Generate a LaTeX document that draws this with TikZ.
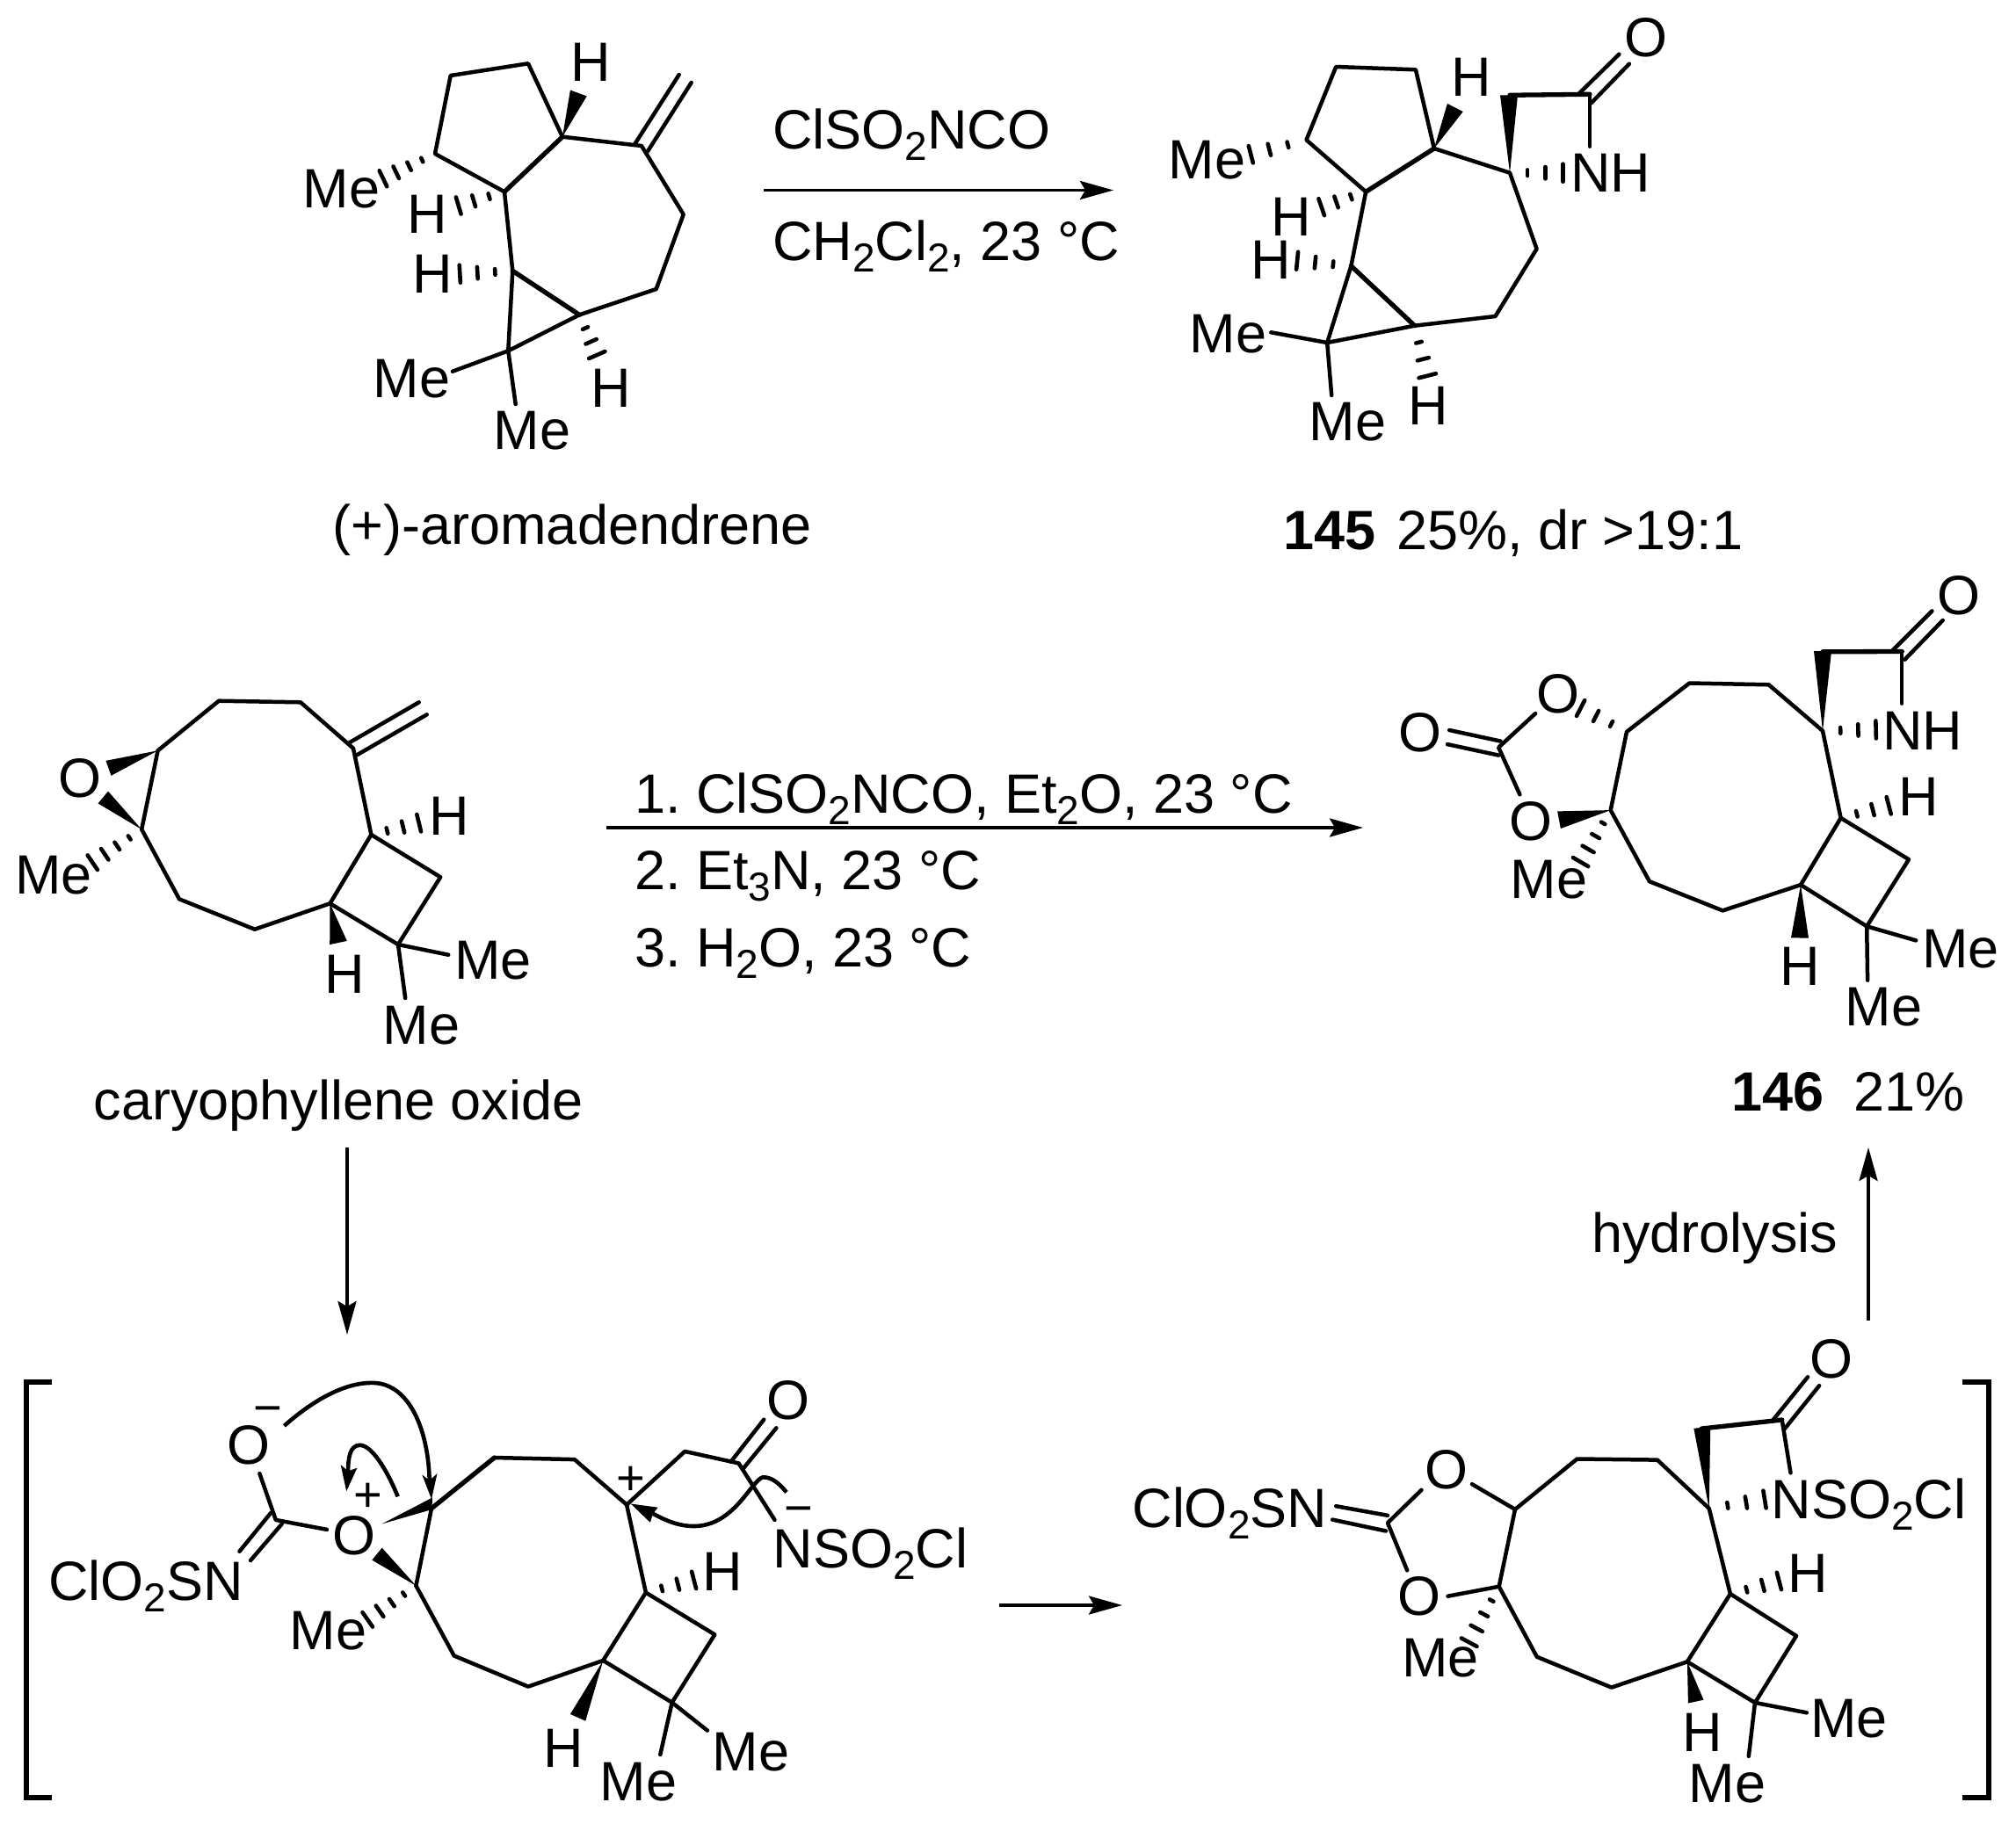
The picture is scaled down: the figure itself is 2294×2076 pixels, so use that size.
\documentclass[tikz,border=0pt]{standalone}
\usepackage{fontspec}
\setmainfont{Liberation Sans}
\usetikzlibrary{calc,arrows.meta}
\frenchspacing
\tikzset{
  lab/.style={anchor=base,inner sep=0pt,outer sep=0pt,font=\fontsize{63}{70}\selectfont},
  labw/.style={lab,anchor=base west},
  chg/.style={lab,font=\fontsize{56}{60}\selectfont},
  bond/.style={line width=4.5pt,line join=round,line cap=round},
  bondb/.style={line width=5.3pt,line join=round,line cap=round},
  hashst/.style={line width=4.6pt,line cap=round},
  brk/.style={line width=6pt,line join=miter},
  rxn/.style={line width=3.6pt,-{Stealth[length=38pt,width=21pt,inset=6pt]}},
  curvy/.style={line width=4.6pt}
}
\newcommand\subs[1]{\raisebox{-13pt}{\fontsize{46}{46}\selectfont #1}}
\newcommand\lbl[5][lab]{\node[#1] (#2) at (#3,#4) {#5};}
\newcommand\pt[3]{\coordinate (#1) at (#2,#3);}
\newcommand\hashbond[4][10]{%
  \foreach \ii in {1,...,#4}{%
    \pgfmathsetmacro\hf{\ii/#4}%
    \pgfmathsetmacro\hw{\hf*#1}%
    \draw[hashst] ($(#2)!\hf!(#3)!\hw pt!90:(#2)$) -- ($(#2)!\hf!(#3)!\hw pt!-90:(#2)$);
  }}
\newcommand\wedgebond[3][10]{%
  \fill (#2) -- ($(#3)!#1pt!90:(#2)$) -- ($(#3)!#1pt!-90:(#2)$) -- cycle;}
\begin{document}
\begin{tikzpicture}[x=1pt,y=-1pt]
\useasboundingbox (0,0) rectangle (2294,2076);
\fill[white] (0,0) rectangle (2294,2076);

% ---------- (+)-aromadendrene
\pt{Aa}{512.7}{86}\pt{Ab}{601}{72.3}\pt{Ac}{640}{155.7}\pt{Ad}{574}{218.3}\pt{Ae}{495}{175}
\pt{Af}{730}{166}\pt{Ag}{777.7}{244}\pt{Ah}{746.7}{329}\pt{Ai}{659.3}{358.3}\pt{Aj}{583.3}{308.3}\pt{Ak}{578.3}{399.3}
\pt{Am1}{515}{422.7}\pt{Am2}{586.7}{460}
\pt{Ad1a}{721.7}{165}\pt{Ad1b}{772.7}{85}\pt{Ad2a}{736.7}{172.7}\pt{Ad2b}{786.7}{94}
\pt{Aw}{658.3}{106}\pt{Ahe}{436}{203.3}\pt{Ahd}{521.7}{234}\pt{Ahj}{523.3}{311.7}\pt{Ahi}{679.3}{404}
\draw[bond] (Ac) -- (Ab) -- (Aa) -- (Ae) -- (Ad);
\draw[bondb] (Ad) -- (Ac);
\draw[bond] (Ac) -- (Af) -- (Ag) -- (Ah) -- (Ai);
\draw[bond] (Ad) -- (Aj) -- (Ak) -- (Ai);
\draw[bondb] (Aj) -- (Ai);
\draw[bond] (Ak) -- (Am1) (Ak) -- (Am2);
\draw[bond] (Ad1a) -- (Ad1b) (Ad2a) -- (Ad2b);
\wedgebond{Ac}{Aw}
\hashbond{Ae}{Ahe}{4}\hashbond{Ad}{Ahd}{3}\hashbond{Aj}{Ahj}{3}\hashbond{Ai}{Ahi}{3}
\lbl{A1}{672}{92.7}{H}\lbl{A2}{388.7}{236.7}{Me}\lbl{A3}{486.3}{265.7}{H}\lbl{A4}{492}{333.3}{H}
\lbl{A5}{468.3}{452.7}{Me}\lbl{A6}{605.3}{511}{Me}\lbl{A7}{695.3}{463.3}{H}
\lbl{A8}{651}{619}{(+)-aromadendrene}

% ---------- arrow 1
\coordinate (R1a) at (869,216.5);\coordinate (R1b) at (1267,216.5);
\draw[rxn] (R1a) -- (R1b);
\lbl[labw]{R1t}{879}{170}{ClSO\subs{2}NCO}
\lbl[labw]{R1u}{879}{297}{CH\subs{2}Cl\subs{2}, 23 °C}

% ---------- 145
\pt{Ba}{1520.2}{76}\pt{Bb}{1610.9}{79.3}\pt{Bc}{1631.9}{169}\pt{Bd}{1554.2}{218.3}\pt{Be}{1486.5}{159.3}
\pt{Bf}{1718}{196.7}\pt{Bg}{1748.6}{283.3}\pt{Bh}{1701.5}{360}\pt{Bi}{1609.7}{370.7}\pt{Bj}{1537.4}{302.7}\pt{Bk}{1510.2}{390}
\pt{Bm1}{1446.3}{378.3}\pt{Bm2}{1515.2}{450}
\pt{Bw1}{1655.8}{122.5}\pt{Bw2}{1717}{108.3}\pt{Bt}{1718}{108.3}\pt{Bn}{1809}{107.3}\pt{Bnh}{1809}{166.7}
\pt{Bd1a}{1796.5}{106.7}\pt{Bd1b}{1842.4}{61.7}\pt{Bd2a}{1810.6}{117.3}\pt{Bd2b}{1853.9}{72.7}
\pt{Bhe}{1423.3}{175.7}\pt{Bhd}{1503.7}{235.7}\pt{Bhj}{1476.1}{296.7}\pt{Bhi}{1624.2}{427.7}\pt{Bhf}{1778.5}{196.7}
\draw[bond] (Bc) -- (Bb) -- (Ba) -- (Be) -- (Bd);
\draw[bondb] (Bd) -- (Bc);
\draw[bond] (Bc) -- (Bf) -- (Bg) -- (Bh) -- (Bi);
\draw[bond] (Bd) -- (Bj) -- (Bk) -- (Bi);
\draw[bondb] (Bj) -- (Bi);
\draw[bond] (Bk) -- (Bm1) (Bk) -- (Bm2);
\draw[bondb] (Bt) -- (Bn);
\draw[bond] (Bn) -- (Bnh);
\draw[bond] (Bd1a) -- (Bd1b) (Bd2a) -- (Bd2b);
\wedgebond{Bc}{Bw1}\wedgebond{Bf}{Bw2}
\hashbond{Be}{Bhe}{3}\hashbond{Bd}{Bhd}{3}\hashbond{Bj}{Bhj}{3}\hashbond{Bi}{Bhi}{3}\hashbond{Bf}{Bhf}{3}
\lbl{B1}{1873}{65}{O}\lbl{B2}{1674}{110}{H}\lbl{B3}{1373.6}{204}{Me}\lbl{B4}{1469.3}{268.3}{H}
\lbl{B5}{1446.3}{317.3}{H}\lbl{B6}{1397.3}{401.7}{Me}\lbl{B7}{1533.6}{501.7}{Me}\lbl{B8}{1625}{483.3}{H}
\lbl{B9}{1832.8}{218.3}{NH}
\lbl[labw]{B10}{1460}{625}{\textbf{145}\hspace{24pt}25\%, dr >19:1}

% ---------- caryophyllene oxide
\pt{Ca}{179.6}{854.3}\pt{Cb}{249}{797.7}\pt{Cc}{342}{799.3}\pt{Cd}{402}{851.7}\pt{Ce}{422.4}{950}
\pt{Cf}{375.5}{1028.3}\pt{Cg}{289.8}{1057.7}\pt{Ch}{204}{1023.3}\pt{Ci}{161.2}{944}
\pt{Cj}{501.2}{998.3}\pt{Ck}{453}{1075}\pt{Cm1}{510.2}{1086.7}\pt{Cm2}{461.2}{1136}
\pt{Cd1a}{398}{845}\pt{Cd1b}{476.7}{799.3}\pt{Cd2a}{406.1}{859.3}\pt{Cd2b}{485.7}{813.3}
\pt{Cw1}{123.5}{874.3}\pt{Cw2}{117.3}{907.5}\pt{Cw3}{385}{1073}\pt{Chi}{105.3}{981.7}\pt{Che}{476.7}{936.7}
\draw[bond] (Ci) -- (Ca) -- (Cb) -- (Cc) -- (Cd) -- (Ce) -- (Cf) -- (Cg) -- (Ch) -- (Ci);
\draw[bond] (Ce) -- (Cj) -- (Ck) -- (Cf);
\draw[bond] (Ck) -- (Cm1) (Ck) -- (Cm2);
\draw[bond] (Cd1a) -- (Cd1b) (Cd2a) -- (Cd2b);
\wedgebond[9]{Ca}{Cw1}\wedgebond[9]{Ci}{Cw2}\wedgebond{Cf}{Cw3}
\hashbond{Ci}{Chi}{4}\hashbond{Ce}{Che}{3}
\lbl{C1}{90.6}{907.7}{O}\lbl{C2}{61.2}{1017.3}{Me}\lbl{C3}{511}{950}{H}\lbl{C4}{392.2}{1130}{H}
\lbl{C5}{561.2}{1114.3}{Me}\lbl{C6}{479.6}{1188.3}{Me}
\lbl{C7}{385}{1274}{caryophyllene oxide}

% ---------- arrow 2
\coordinate (R2a) at (690,942);\coordinate (R2b) at (1551,942);
\draw[rxn] (R2a) -- (R2b);
\lbl[labw]{R2t}{722}{925}{1. ClSO\subs{2}NCO, Et\subs{2}O, 23 °C}
\lbl[labw]{R2u}{722}{1012}{2. Et\subs{3}N, 23 °C}
\lbl[labw]{R2v}{722}{1100}{3. H\subs{2}O, 23 °C}

% ---------- 146
\pt{Da}{1851}{832.9}\pt{Db}{1922.4}{777.5}\pt{Dc}{2012.6}{779.3}\pt{Dd}{2074}{831.8}\pt{De}{2094.6}{931}
\pt{Df}{2049}{1007.1}\pt{Dg}{1960.2}{1036.4}\pt{Dh}{1876.9}{1003.2}\pt{Di}{1832.7}{922.1}
\pt{Dj}{2172}{978.2}\pt{Dk}{2124.2}{1054.3}\pt{Dm1}{2180.2}{1070.4}\pt{Dm2}{2125.1}{1115.7}
\pt{Dw1}{2074}{741}\pt{Dt}{2074}{741.8}\pt{Dn}{2164.2}{741.5}\pt{Dnh}{2164.2}{800.7}
\pt{Dd1a}{2153.8}{740}\pt{Dd1b}{2198.4}{695.4}\pt{Dd2a}{2167.4}{750.7}\pt{Dd2b}{2210.7}{706}
\pt{Dhd}{2134.6}{830.4}\pt{Dhe}{2149.2}{916.8}\pt{Dha}{1798.6}{806}\pt{Dw2}{1774}{933.2}\pt{Dhi}{1798.6}{981.1}\pt{Dw3}{2048}{1067.5}
\pt{Dp}{1705.2}{850.7}\pt{Do1}{1747.1}{812.1}\pt{Do2}{1729.4}{904.3}
\pt{De1a}{1649.2}{831}\pt{De1b}{1707.5}{843.6}\pt{De2a}{1647}{847.1}\pt{De2b}{1705.2}{859.6}
\draw[bond] (Di) -- (Da) -- (Db) -- (Dc) -- (Dd) -- (De) -- (Df) -- (Dg) -- (Dh) -- (Di);
\draw[bond] (De) -- (Dj) -- (Dk) -- (Df);
\draw[bond] (Dk) -- (Dm1) (Dk) -- (Dm2);
\draw[bondb] (Dt) -- (Dn);
\draw[bond] (Dn) -- (Dnh);
\draw[bond] (Dd1a) -- (Dd1b) (Dd2a) -- (Dd2b);
\draw[bond] (Do1) -- (Dp) -- (Do2);
\draw[bond] (De1a) -- (De1b) (De2a) -- (De2b);
\wedgebond{Dd}{Dw1}\wedgebond{Di}{Dw2}\wedgebond{Df}{Dw3}
\hashbond{Dd}{Dhd}{3}\hashbond{De}{Dhe}{3}\hashbond{Da}{Dha}{3}\hashbond{Di}{Dhi}{4}
\lbl{D1}{1772.6}{811.4}{O}\lbl{D2}{1616}{855.4}{O}\lbl{D3}{1742.1}{956}{O}\lbl{D4}{1762.6}{1022.9}{Me}
\lbl{D5}{2187.5}{853.2}{NH}\lbl{D6}{2228.9}{699}{O}\lbl{D7}{2183.4}{928.6}{H}\lbl{D8}{2048.6}{1121.4}{H}
\lbl{D9}{2231.2}{1101.8}{Me}\lbl{D10}{2143.7}{1167.9}{Me}
\lbl[labw]{D11}{1970}{1264}{\textbf{146}\hspace{34pt}21\%}

% ---------- vertical + lower arrows
\coordinate (R3a) at (395,1306);\coordinate (R3b) at (395,1519);
\draw[rxn] (R3a) -- (R3b);
\coordinate (R4a) at (2126,1503);\coordinate (R4b) at (2126,1306);
\draw[rxn] (R4a) -- (R4b);
\lbl[labw]{R4t}{1811}{1425}{hydrolysis}
\coordinate (R5a) at (1137,1827);\coordinate (R5b) at (1277,1827);
\draw[rxn] (R5a) -- (R5b);

% ---------- brackets
\coordinate (L1) at (59.3,1573.2);\coordinate (L2) at (29.9,1573.2);\coordinate (L3) at (29.9,2045.5);\coordinate (L4) at (59.3,2045.5);
\draw[brk] (L1) -- (L2) -- (L3) -- (L4);
\coordinate (M1) at (2233.4,1572.7);\coordinate (M2) at (2262.8,1572.7);\coordinate (M3) at (2262.8,2046.3);\coordinate (M4) at (2233.4,2046.3);
\draw[brk] (M1) -- (M2) -- (M3) -- (M4);

% ---------- intermediate (left)
\pt{Ep}{313.8}{1729.9}\pt{Eo1}{295.4}{1677.1}\pt{Eo2}{372}{1740.9}
\pt{Ed1a}{272.5}{1765.7}\pt{Ed1b}{308}{1722.1}\pt{Ed2a}{285.1}{1776}\pt{Ed2b}{320.7}{1734.5}
\pt{Ea}{491}{1716.8}\pt{Eb}{562.6}{1659}\pt{Ec}{653.8}{1661.1}\pt{Ed}{713.1}{1712.6}\pt{Ee}{734.9}{1812.6}
\pt{Ef}{686.3}{1889.9}\pt{Eg}{601}{1919.6}\pt{Eh}{516.7}{1884.5}\pt{Ei}{473.4}{1804.8}
\pt{Ej}{813.3}{1860.4}\pt{Ek}{764.7}{1937.7}\pt{Em1}{804.9}{1969.6}\pt{Em2}{751.3}{1997}
\pt{Em}{779.3}{1651.9}\pt{En}{840.5}{1665.4}\pt{Enh}{881.5}{1729.9}
\pt{Ee1a}{831.7}{1663.6}\pt{Ee1b}{869.2}{1615.7}\pt{Ee2a}{846.3}{1670.7}\pt{Ee2b}{883.4}{1625.3}
\pt{Ew2}{429}{1768.6}\pt{Ehi}{418.3}{1843.4}\pt{Ew3}{657.6}{1954.8}\pt{Ehe}{789.6}{1798.4}
\pt{Ew1a}{434.4}{1734.5}\pt{Ew1b}{492}{1704.5}\pt{Ew1c}{491.5}{1718}
\draw[bond] (Eo1) -- (Ep) -- (Eo2);
\draw[bond] (Ed1a) -- (Ed1b) (Ed2a) -- (Ed2b);
\draw[bond] (Ei) -- (Ea);
\draw[bondb] (Ea) -- (Eb);
\draw[bond] (Eb) -- (Ec) -- (Ed) -- (Ee) -- (Ef) -- (Eg) -- (Eh) -- (Ei);
\draw[bond] (Ee) -- (Ej) -- (Ek) -- (Ef);
\draw[bond] (Ek) -- (Em1) (Ek) -- (Em2);
\draw[bond] (Ed) -- (Em) -- (En) -- (Enh);
\draw[bond] (Ee1a) -- (Ee1b) (Ee2a) -- (Ee2b);
\fill (Ew1a) -- (Ew1b) -- (Ew1c) -- cycle;
\wedgebond[9]{Ei}{Ew2}\wedgebond[9.5]{Ef}{Ew3}
\hashbond{Ei}{Ehi}{4}\hashbond{Ee}{Ehe}{3}
\lbl{E1}{283.2}{1666.5}{O}\lbl[chg]{E2}{305}{1621}{−}\lbl{E3}{403.4}{1769}{O}\lbl[chg]{E4}{419}{1720}{+}
\lbl{E5}{165.8}{1821.4}{ClO\subs{2}SN}\lbl{E6}{373.4}{1877}{Me}
\lbl[chg]{E7}{717.7}{1701}{+}\lbl{E8}{897.2}{1615.7}{O}\lbl[chg]{E9}{908.8}{1735}{−}
\lbl{E10}{990.6}{1784.2}{NSO\subs{2}Cl}\lbl{E11}{822.5}{1810.8}{H}\lbl{E12}{641.5}{2011.8}{H}
\lbl{E13}{854.7}{2015.4}{Me}\lbl{E14}{726.5}{2049.4}{Me}
% curved arrows
\coordinate (Fa) at (323.4,1622.8);\coordinate (Fb) at (488.7,1686.7);
\draw[curvy] (Fa) .. controls (363.6,1587.4) and (398,1573.2) .. (424.8,1573.9) .. controls (466.9,1575) and (487.9,1629.9) .. (Fb);
\fill (491,1706.2) -- (480.3,1678.5) -- (488.7,1684.9) -- (497.5,1677.1) -- cycle;
\coordinate (Ga) at (452.7,1703.3);\coordinate (Gb) at (396.1,1674.3);
\draw[curvy] (Ga) .. controls (440.1,1672.5) and (422.9,1644.8) .. (409.5,1644.8) .. controls (398,1644.8) and (396.1,1660) .. (Gb);
\fill (394.2,1697.3) -- (387.7,1667.2) -- (396.1,1674.3) -- (406.4,1670.7) -- cycle;
\coordinate (Ha) at (894.9,1698.4);\coordinate (Hb) at (742.9,1722.8);
\draw[curvy] (Ha) .. controls (885.3,1686.7) and (877.6,1681.3) .. (868.1,1681.3) .. controls (854.7,1684.9) and (835.5,1737) .. (789.6,1737) .. controls (770.5,1737) and (755.2,1729.2) .. (Hb);
\fill (717.7,1711.5) -- (748.7,1715.7) -- (742.9,1722.8) -- (739.9,1732.8) -- cycle;

% ---------- intermediate (right)
\pt{Fa1}{1724}{1717.9}\pt{Fb1}{1794.5}{1660.5}\pt{Fc1}{1885.9}{1661.6}\pt{Fd1}{1944.7}{1716.8}\pt{Fe1}{1968.9}{1814.1}
\pt{Ff1}{1919.9}{1891.3}\pt{Fg1}{1833.7}{1920.6}\pt{Fh1}{1748.8}{1885.7}\pt{Fi1}{1705.7}{1805.7}
\pt{Fj1}{2044}{1861.9}\pt{Fk1}{1997}{1937.9}\pt{Fm1}{2055.8}{1949.3}\pt{Fm2}{1989.8}{1998.9}
\pt{Fw1}{1936.8}{1624.9}\pt{Ft}{1936.2}{1626}\pt{Fn}{2027.7}{1616}\pt{Fnh}{2037.5}{1676.3}
\pt{Fd1a}{2017.9}{1615.7}\pt{Fd1b}{2057}{1567.2}\pt{Fd2a}{2030.9}{1626}\pt{Fd2b}{2070.1}{1577.1}
\pt{Fhd}{2008}{1706.5}\pt{Fhe}{2024.4}{1799.4}\pt{Fhi}{1671.7}{1869.2}\pt{Fw3}{1929.7}{1936.6}
\pt{Fp}{1579}{1733.3}\pt{Fo1}{1617.5}{1695.8}\pt{Fo2}{1601.2}{1787.3}\pt{Fo3}{1675}{1689.2}\pt{Fo4}{1647.5}{1816.7}
\pt{Fe1a}{1520.2}{1714.2}\pt{Fe1b}{1579}{1724.8}\pt{Fe2a}{1516.2}{1729.6}\pt{Fe2b}{1577}{1742.5}
\draw[bond] (Fi1) -- (Fa1) -- (Fb1) -- (Fc1) -- (Fd1) -- (Fe1) -- (Ff1) -- (Fg1) -- (Fh1) -- (Fi1);
\draw[bond] (Fe1) -- (Fj1) -- (Fk1) -- (Ff1);
\draw[bond] (Fk1) -- (Fm1) (Fk1) -- (Fm2);
\draw[bondb] (Ft) -- (Fn);
\draw[bond] (Fn) -- (Fnh);
\draw[bond] (Fd1a) -- (Fd1b) (Fd2a) -- (Fd2b);
\draw[bond] (Fo1) -- (Fp) -- (Fo2);
\draw[bond] (Fa1) -- (Fo3) (Fi1) -- (Fo4);
\draw[bond] (Fe1a) -- (Fe1b) (Fe2a) -- (Fe2b);
\wedgebond[9.5]{Fd1}{Fw1}\wedgebond[9]{Ff1}{Fw3}
\hashbond{Fd1}{Fhd}{3}\hashbond{Fe1}{Fhe}{3}\hashbond{Fi1}{Fhi}{4}
\lbl{F1}{1645.6}{1694.7}{O}\lbl{F2}{1614.9}{1838.7}{O}\lbl{F3}{1399.3}{1738}{ClO\subs{2}SN}
\lbl{F4}{1639}{1908.9}{Me}\lbl{F5}{2126.3}{1728.5}{NSO\subs{2}Cl}\lbl{F6}{2083.8}{1568}{O}
\lbl{F7}{2057}{1812.3}{H}\lbl{F8}{1937.5}{1993}{H}\lbl{F9}{2104}{1977.6}{Me}\lbl{F10}{1965.6}{2051}{Me}
\end{tikzpicture}
\end{document}
